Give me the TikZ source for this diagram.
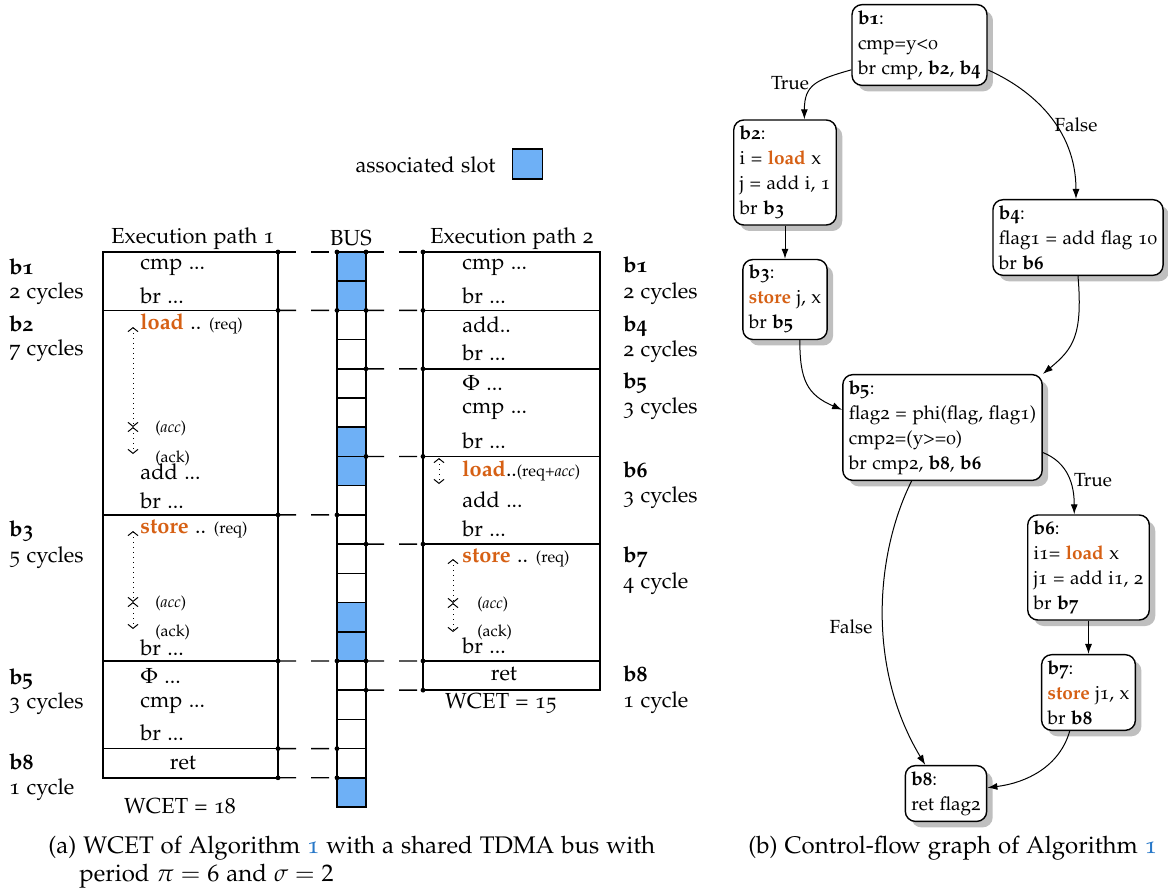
\documentclass[tikz,border=0pt]{standalone}
\usepackage[T1]{fontenc}
\usepackage[osf]{mathpazo}
\usetikzlibrary{arrows.meta,shadows}
\definecolor{ldorange}{RGB}{214,96,20}
\definecolor{slotblue}{RGB}{110,176,246}
\definecolor{linkblue}{RGB}{40,120,200}
\newcommand{\ldword}{\textcolor{ldorange}{\textbf{load}}}
\newcommand{\stword}{\textcolor{ldorange}{\textbf{store}}}
\begin{document}
\begin{tikzpicture}[x=0.5pt,y=-0.5pt,
  font=\fontsize{10.9}{13}\selectfont,
  blk/.style={draw, line width=0.8pt, outer sep=0pt, inner sep=0pt, anchor=north west},
  cell/.style={draw, line width=0.8pt, outer sep=0pt, inner sep=0pt, anchor=north west, minimum width=14.5pt, minimum height=14.605pt},
  txt/.style={anchor=base west, inner sep=0pt},
  ctxt/.style={anchor=base, inner sep=0pt},
  stxt/.style={anchor=base west, inner sep=0pt, font=\footnotesize},
  captxt/.style={anchor=base west, inner sep=0pt, font=\fontsize{12}{14}\selectfont},
  conn/.style={line width=0.7pt, dash pattern=on 9pt off 7.5pt},
  darr/.style={dotted, line width=0.5pt, {Straight Barb[length=2pt,width=5pt]}-{Straight Barb[length=2pt,width=5pt]}},
  cfg/.style={draw, line width=0.7pt, rounded corners=5pt, fill=white, align=left, inner sep=3pt,
    font=\fontsize{9.5}{12.5}\selectfont,
    drop shadow={shadow xshift=3pt, shadow yshift=-3pt, fill=black!25, opacity=1}},
  cfarrow/.style={line width=0.5pt, -{Latex[length=5pt,width=3.5pt]}},
  lab/.style={inner sep=0pt, font=\fontsize{9.5}{11}\selectfont}
]
\useasboundingbox (0,0) rectangle (1168,895);

% legend
\node[anchor=base east, inner sep=0pt] (legtxt) at (496,172) {associated slot};
\node[draw, line width=0.8pt, fill=slotblue, minimum size=15pt, inner sep=0pt] (legbox) at (527.5,164) {};

% headers
\node[ctxt] (h1) at (193,243) {Execution path 1};
\node[ctxt] (h2) at (351,245) {BUS};
\node[ctxt] (h3) at (512,243) {Execution path 2};

% bus cells
\foreach \i in {0,...,18}{
  \pgfmathtruncatemacro{\m}{mod(\i,6)}
  \ifnum\m<2 \def\cc{slotblue}\else\def\cc{white}\fi
  \node[cell, fill=\cc] (bus\i) at (337,252+29.21*\i) {};
}

% path 1 blocks
\node[blk, minimum width=87.5pt, minimum height=29.21pt] (p1b1) at (103,252) {};
\node[blk, minimum width=87.5pt, minimum height=102.235pt] (p1b2) at (p1b1.south west) {};
\node[blk, minimum width=87.5pt, minimum height=73.025pt] (p1b3) at (p1b2.south west) {};
\node[blk, minimum width=87.5pt, minimum height=43.815pt] (p1b5) at (p1b3.south west) {};
\node[blk, minimum width=87.5pt, minimum height=14.605pt] (p1b8) at (p1b5.south west) {};

% path 2 blocks
\node[blk, minimum width=88.5pt, minimum height=29.21pt] (p2b1) at (423,252) {};
\node[blk, minimum width=88.5pt, minimum height=29.21pt] (p2b4) at (p2b1.south west) {};
\node[blk, minimum width=88.5pt, minimum height=43.815pt] (p2b5) at (p2b4.south west) {};
\node[blk, minimum width=88.5pt, minimum height=43.815pt] (p2b6) at (p2b5.south west) {};
\node[blk, minimum width=88.5pt, minimum height=58.42pt] (p2b7) at (p2b6.south west) {};
\node[blk, minimum width=88.5pt, minimum height=14.605pt] (p2b8) at (p2b7.south west) {};

% connectors between blocks and bus
\foreach \a/\b in {p1b1.north east/bus0.north west, p1b2.north east/bus2.north west,
  p1b3.north east/bus9.north west, p1b5.north east/bus14.north west,
  p1b8.north east/bus17.north west, p1b8.south east/bus18.north west,
  bus0.north east/p2b1.north west, bus2.north east/p2b4.north west,
  bus4.north east/p2b5.north west, bus7.north east/p2b6.north west,
  bus10.north east/p2b7.north west, bus14.north east/p2b8.north west,
  bus15.north east/p2b8.south west}{
  \draw[conn] (\a) -- (\b);
  \fill (\a) circle (1.2pt);
  \fill (\b) circle (1.2pt);
}

% left labels
\node[txt] (Lb1) at (9,274) {\textbf{b1}};
\node[txt] (Lc1) at (9,298) {2 cycles};
\node[txt] (Lb2) at (9,331) {\textbf{b2}};
\node[txt] (Lc2) at (9,355) {7 cycles};
\node[txt] (Lb3) at (9,536) {\textbf{b3}};
\node[txt] (Lc3) at (9,562) {5 cycles};
\node[txt] (Lb5) at (9,684) {\textbf{b5}};
\node[txt] (Lc5) at (9,708) {3 cycles};
\node[txt] (Lb8) at (9,769) {\textbf{b8}};
\node[txt] (Lc8) at (9,794) {1 cycle};

% right labels
\node[txt] (Rb1) at (623,272) {\textbf{b1}};
\node[txt] (Rc1) at (623,298) {2 cycles};
\node[txt] (Rb4) at (623,331) {\textbf{b4}};
\node[txt] (Rc4) at (623,356) {2 cycles};
\node[txt] (Rb5) at (623,388) {\textbf{b5}};
\node[txt] (Rc5) at (623,413) {3 cycles};
\node[txt] (Rb6) at (623,477) {\textbf{b6}};
\node[txt] (Rc6) at (623,502) {3 cycles};
\node[txt] (Rb7) at (623,562) {\textbf{b7}};
\node[txt] (Rc7) at (623,588) {4 cycle};
\node[txt] (Rb8) at (623,681) {\textbf{b8}};
\node[txt] (Rc8) at (623,707) {1 cycle};

% path 1 contents
\node[txt] (a1) at (140,269) {cmp ...};
\node[txt] (a2) at (140,303) {br ...};
\node[txt] (a3) at (140,329) {\ldword{} .. {\footnotesize (req)}};
\node[stxt] (a4) at (155,432) {(\textit{acc})};
\node[stxt] (a5) at (155,462) {(ack)};
\node[txt] (a6) at (140,479) {add ...};
\node[txt] (a7) at (140,508) {br ...};
\node[txt] (a8) at (140,533) {\stword{} .. {\footnotesize (req)}};
\node[stxt] (a9) at (155,607) {(\textit{acc})};
\node[stxt] (a10) at (155,636) {(ack)};
\node[txt] (a11) at (140,655) {br ...};
\node[txt] (a12) at (140,683) {$\Phi$ ...};
\node[txt] (a13) at (140,707) {cmp ...};
\node[txt] (a14) at (140,740) {br ...};
\node[ctxt] (a15) at (183,769) {ret};
\node[ctxt] (w1) at (180,813) {WCET = 18};

\coordinate (q1) at (133,327);
\coordinate (q2) at (133,427);
\coordinate (q3) at (133,454);
\draw[darr] (q1) -- (q2);
\draw[darr] (q2) -- (q3);
\coordinate (q4) at (133,531);
\coordinate (q5) at (133,602);
\coordinate (q6) at (133,629);
\draw[darr] (q4) -- (q5);
\draw[darr] (q5) -- (q6);

% path 2 contents
\node[txt] (c1) at (462,269) {cmp ...};
\node[txt] (c2) at (462,303) {br ...};
\node[txt] (c3) at (462,332) {add..};
\node[txt] (c4) at (462,360) {br ...};
\node[txt] (c5) at (462,390) {$\Phi$ ...};
\node[txt] (c6) at (462,413) {cmp ...};
\node[txt] (c7) at (462,448) {br ...};
\node[txt] (c8) at (462,476) {\ldword..{\footnotesize(req+\textit{acc})}};
\node[txt] (c9) at (462,507) {add ...};
\node[txt] (c10) at (462,536) {br ...};
\node[txt] (c11) at (462,562) {\stword{} .. {\footnotesize (req)}};
\node[stxt] (c12) at (477,608) {(\textit{acc})};
\node[stxt] (c13) at (477,636) {(ack)};
\node[txt] (c14) at (462,653) {br ...};
\node[ctxt] (c15) at (504,680) {ret};
\node[ctxt] (w2) at (501,708) {WCET = 15};

\coordinate (r1) at (439,458);
\coordinate (r2) at (439,484);
\draw[darr] (r1) -- (r2);
\coordinate (r3) at (453,559);
\coordinate (r4) at (453,603);
\coordinate (r5) at (453,632);
\draw[darr] (r3) -- (r4);
\draw[darr] (r4) -- (r5);

% control-flow graph
\node[cfg] (b1) at (919.5,45) {\textbf{b1}:\\cmp=y<0\\br cmp, \textbf{b2}, \textbf{b4}};
\node[cfg] (b2) at (785,172.5) {\textbf{b2}:\\i = \ldword{} x\\j = add i, 1\\br \textbf{b3}};
\node[cfg] (b4) at (1078,237.5) {\textbf{b4}:\\flag1 = add flag 10\\br \textbf{b6}};
\node[cfg] (b3) at (785,299.5) {\textbf{b3}:\\\stword{} j, x\\br \textbf{b5}};
\node[cfg] (b5) at (942.5,427.5) {\textbf{b5}:\\flag2 = phi(flag, flag1)\\cmp2=(y>=0)\\br cmp2, \textbf{b8}, \textbf{b6}};
\node[cfg] (b6) at (1088.5,567.5) {\textbf{b6}:\\i1= \ldword{} x\\j1 = add i1, 2\\br \textbf{b7}};
\node[cfg] (b7) at (1088.5,692.5) {\textbf{b7}:\\\stword{} j1, x\\br \textbf{b8}};
\node[cfg] (b8) at (946,793.5) {\textbf{b8}:\\ret flag2};

\draw[cfarrow] (b1.200) .. controls +(-35,10) and +(0,-35) .. (b2.70);
\draw[cfarrow] (b1.-20) .. controls +(45,20) and +(0,-70) .. (b4.93);
\draw[cfarrow] (b2.south) -- (b3.north);
\draw[cfarrow] (b4.south) .. controls +(5,60) and +(30,-25) .. (b5.north east);
\draw[cfarrow] (b3.-70) .. controls +(0,40) and +(-35,-15) .. (b5.170);
\draw[cfarrow] (b5.-14) .. controls +(25,10) and +(0,-30) .. (b6.105);
\draw[cfarrow] (b5.-120) .. controls +(-35,70) and +(-60,-100) .. (b8.126);
\draw[cfarrow] (b6.south) -- (b7.north);
\draw[cfarrow] (b7.-116) .. controls +(-10,35) and +(40,-5) .. (b8.8);

\node[lab] (t1) at (790,83) {True};
\node[lab] (f1) at (1076,125) {False};
\node[lab] (t2) at (1093,480) {True};
\node[lab] (f2) at (851,627) {False};

% captions
\node[captxt] (capa1) at (48,853) {(a) WCET of Algorithm \textcolor{linkblue}{1} with a shared TDMA bus with};
\node[captxt] (capa2) at (79,881) {period $\pi = 6$ and $\sigma = 2$};
\node[captxt] (capb) at (748,853) {(b) Control-flow graph of Algorithm \textcolor{linkblue}{1}};
\end{tikzpicture}
\end{document}
